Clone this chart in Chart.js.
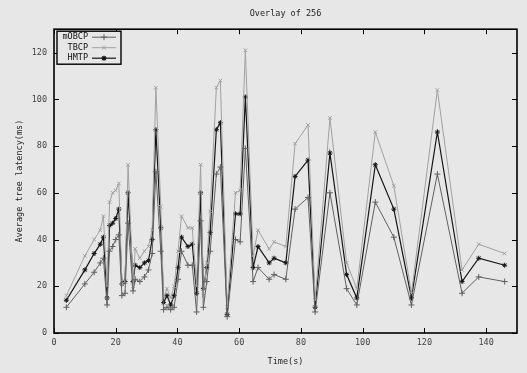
<!DOCTYPE html>
<html>
<head>
<meta charset="utf-8" />
<script src="https://cdn.jsdelivr.net/npm/chart.js@4/dist/chart.umd.min.js"></script>
<style>
  body { margin: 0; background: #e7e7e7; }
  canvas { display: block; }
</style>
</head>
<body>
<canvas id="overlay" width="527" height="373"></canvas>
<script>
// time samples (s)
const times = [4, 10, 13, 15, 16, 17.2, 18, 19, 20, 21, 22, 23, 24, 25.6, 26.3, 27.8, 29.3, 30.6, 31.8, 33,
  34.6, 35.5, 36.6, 37.8, 38.9, 40.2, 41.3, 43.4, 44.8, 46.2, 47.5, 48.4, 49.5, 50.6, 52.6, 53.9, 56.1, 58.8, 60.3, 62,
  64.5, 66.1, 69.7, 71.3, 75.1, 78.1, 82.3, 84.6, 89.4, 94.8, 98.1, 104.1, 110.1, 115.8, 124.2, 132.2, 137.6, 146];

// average tree latency (ms)
const mobcp = [11, 21, 26, 30, 32, 12, 35, 37, 40, 42, 16, 17, 47, 18, 23, 22, 24, 27, 34, 69,
  35, 10, 11, 10, 11, 23, 35, 29, 29, 9, 48, 11, 22, 35, 68, 71, 7, 40, 39, 79,
  22, 28, 23, 25, 23, 53, 58, 9, 60, 19, 12, 56, 41, 12, 68, 17, 24, 22];
const tbcp = [16, 33, 40, 44, 50, 20, 56, 60, 61, 64, 21, 22, 72, 20, 36, 32, 35, 37, 44, 105,
  54, 15, 19, 15, 20, 35, 50, 45, 45, 20, 72, 16, 30, 52, 105, 108, 11, 60, 61, 121,
  33, 44, 36, 39, 37, 81, 89, 14, 92, 30, 19, 86, 63, 17, 104, 27, 38, 34];
const hmtp = [14, 27, 34, 38, 41, 15, 46, 47, 49, 53, 21, 22, 60, 22, 29, 28, 30, 31, 40, 87,
  45, 13, 16, 12, 16, 28, 41, 37, 38, 17, 60, 19, 28, 43, 87, 90, 8, 51, 51, 101,
  28, 37, 30, 32, 30, 67, 74, 11, 77, 25, 15, 72, 53, 15, 86, 22, 32, 29];

const xTicks = [0, 20, 40, 60, 80, 100, 120, 140];
const yTicks = [0, 20, 40, 60, 80, 100, 120];

const FONT = "'DejaVu Sans Mono', monospace";

function pts(vals) {
  return times.map((t, i) => ({ x: t, y: vals[i] }));
}

// gnuplot-like frame, inward ticks and legend box
const gnuplotFrame = {
  id: "gnuplotFrame",
  afterDraw(chart) {
    const ctx = chart.ctx;
    const a = chart.chartArea;
    const xs = chart.scales.x, ys = chart.scales.y;
    ctx.save();
    ctx.strokeStyle = "#000";
    ctx.lineWidth = 1;
    xTicks.forEach(v => {
      const px = Math.round(xs.getPixelForValue(v)) + 0.5;
      ctx.beginPath();
      ctx.moveTo(px, a.bottom); ctx.lineTo(px, a.bottom - 5);
      ctx.moveTo(px, a.top); ctx.lineTo(px, a.top + 5);
      ctx.stroke();
    });
    yTicks.forEach(v => {
      const py = Math.round(ys.getPixelForValue(v)) + 0.5;
      ctx.beginPath();
      ctx.moveTo(a.left, py); ctx.lineTo(a.left + 5, py);
      ctx.moveTo(a.right, py); ctx.lineTo(a.right - 5, py);
      ctx.stroke();
    });
    ctx.lineWidth = 1.6;
    ctx.strokeRect(a.left, a.top, a.right - a.left, a.bottom - a.top);

    // legend
    const bx = a.left + 3, by = a.top + 2, bw = 64, bh = 33;
    ctx.fillStyle = "#e7e7e7";
    ctx.fillRect(bx, by, bw, bh);
    ctx.lineWidth = 1.4;
    ctx.strokeRect(bx, by, bw, bh);
    ctx.font = "8.5px " + FONT;
    ctx.textAlign = "right";
    ctx.textBaseline = "middle";
    chart.data.datasets.forEach((ds, i) => {
      const y = by + 6 + i * 10.5;
      ctx.fillStyle = "#111";
      ctx.fillText(ds.label, bx + 31, y);
      ctx.strokeStyle = ds.borderColor;
      ctx.lineWidth = ds.borderWidth;
      ctx.beginPath();
      ctx.moveTo(bx + 35, y); ctx.lineTo(bx + 59, y);
      ctx.stroke();
      Chart.helpers.drawPoint(ctx, { pointStyle: ds.pointStyle, radius: ds.pointRadius, borderWidth: 1 }, bx + 47, y);
    });
    ctx.restore();
  }
};

new Chart(document.getElementById("overlay").getContext("2d"), {
  type: "line",
  data: {
    datasets: [
      { label: "mOBCP", data: pts(mobcp), borderColor: "#606060", backgroundColor: "#606060",
        borderWidth: 1, pointStyle: "cross", pointRadius: 3, pointBorderWidth: 1 },
      { label: "TBCP", data: pts(tbcp), borderColor: "#a0a0a0", backgroundColor: "#a0a0a0",
        borderWidth: 1, pointStyle: "crossRot", pointRadius: 2.5, pointBorderWidth: 1 },
      { label: "HMTP", data: pts(hmtp), borderColor: "#151515", backgroundColor: "#151515",
        borderWidth: 1.2, pointStyle: "star", pointRadius: 2.5, pointBorderWidth: 1 }
    ]
  },
  options: {
    responsive: false,
    animation: false,
    layout: { padding: { left: 0, right: 10, top: 0, bottom: 0 } },
    plugins: {
      legend: { display: false },
      tooltip: { enabled: false },
      title: {
        display: true, text: "Overlay of 256", fullSize: false, color: "#222",
        font: { family: FONT, size: 8.5, weight: "normal" },
        padding: { top: 9, bottom: 10 }
      }
    },
    scales: {
      x: {
        type: "linear", min: 0, max: 150,
        afterFit: s => { s.height = 40; },
        grid: { display: false, drawTicks: false },
        border: { display: false },
        ticks: {
          stepSize: 20, padding: 5, color: "#444", maxRotation: 0,
          font: { family: FONT, size: 8.5 },
          callback: v => (xTicks.includes(v) ? v : "")
        },
        title: {
          display: true, text: "Time(s)", color: "#222",
          font: { family: FONT, size: 8.5 }, padding: { top: 0, bottom: 6 }
        }
      },
      y: {
        min: 0, max: 130,
        afterFit: s => { s.width = 54; },
        grid: { display: false, drawTicks: false },
        border: { display: false },
        ticks: {
          stepSize: 20, padding: 7, color: "#444",
          font: { family: FONT, size: 8.5 },
          callback: v => (yTicks.includes(v) ? v : "")
        },
        title: {
          display: true, text: "Average tree latency(ms)", color: "#222",
          font: { family: FONT, size: 8.5 }, padding: { top: 15, bottom: 0 }
        }
      }
    }
  },
  plugins: [gnuplotFrame]
});
</script>
</body>
</html>
